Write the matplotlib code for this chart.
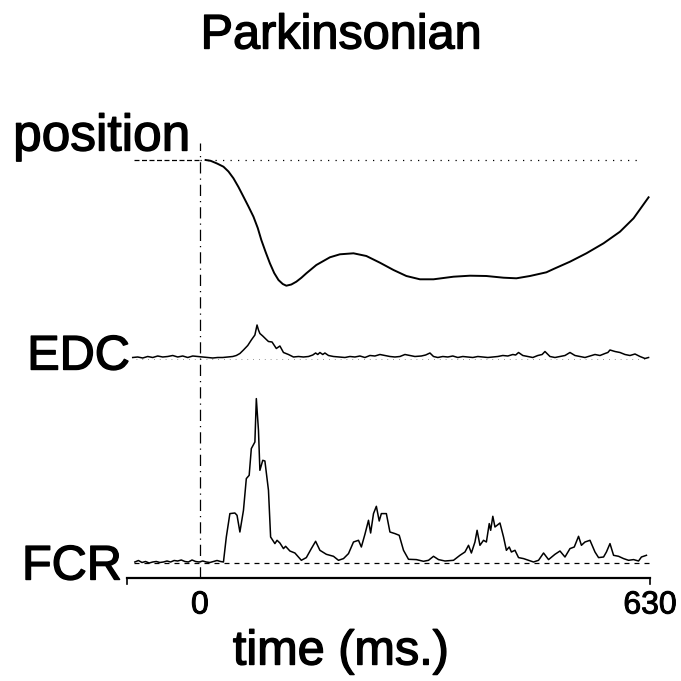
import matplotlib
matplotlib.use("Agg")
import matplotlib.pyplot as plt
import matplotlib.patheffects as pe

plt.rcParams['font.family'] = ['Liberation Sans', 'DejaVu Sans']

# time axis (ms) and trace amplitudes (arbitrary units, relative to each trace's baseline)
pos_t = [8, 15, 24, 33, 40, 47, 54, 61, 68, 75, 81, 86, 92, 98, 104, 110, 116, 121, 128, 135,
         142, 149, 163, 182, 196, 215, 233, 252, 271, 289, 308, 327, 355, 378, 401, 425, 443,
         462, 485, 495, 518, 541, 565, 588, 607, 628]
pos_v = [0, -0.8, -3.5, -6.7, -11.5, -18.3, -27, -36.7, -46.5, -56.7, -68, -80, -92, -103.3,
         -113, -120, -124, -125.7, -124.5, -121.7, -117.8, -113.3, -105, -97.3, -94.3, -93.3,
         -96, -102.7, -110, -116, -119.3, -119.3, -116.7, -115.7, -116, -117.7, -118.3, -116,
         -112.3, -109, -101.7, -93.3, -83.3, -71.7, -58.3, -37.3]

edc_t = [-94, -87, -80, -73, -66, -59, -52, -45, -38, -31, -24, -17, -10, -3, 4, 11, 18, 25,
         32, 39, 46, 51, 56, 61, 67, 72, 77, 80, 82, 84, 88, 93, 96, 101, 107, 112, 117, 124,
         131, 138, 145, 152, 158, 162, 165, 168, 172, 175, 180, 187, 195, 203, 210, 217, 224,
         231, 238, 245, 252, 259, 266, 273, 280, 287, 294, 301, 310, 316, 322, 327, 333, 340,
         347, 354, 361, 368, 375, 382, 389, 396, 403, 410, 417, 424, 431, 438, 442, 446, 452,
         459, 466, 473, 479, 483, 490, 497, 504, 511, 518, 525, 532, 539, 546, 553, 560, 567,
         571, 574, 581, 588, 595, 602, 609, 616, 623, 628]
edc_v = [0, 0.5, -0.5, 1, 0, 1.5, 0.5, 1, 2, 0.5, 1.5, 0, 1.5, 1, 0.5, 0, -0.5, 0,
         0, 0.5, 1, 2, 4, 7.5, 12, 17.5, 22.5, 32.5, 27.5, 24, 21.5, 18, 16, 15.5, 9, 11.5, 5, 3,
         0.5, 1, 0.5, 1, 2.5, 4.5, 3, 5, 3, 4.5, 2, 1, 0.5, 0, 1, 0.5, 1.5,
         0, 2, 1.5, 3, 2, 1, 0.5, 1, 3, 2, 1, 1.5, 2.5, 4.5, 1, 0, 1,
         0.5, 1.5, 0, 1, 0.5, 0, 1, 0.5, 0, 0.5, 1, 2, 1.5, 3, 2.5, 5, 2,
         1, 0, 2, 3, 6, 1, 0, 1, 2, 5, 2, 1, 0, 1.5, 3, 2, 4,
         5, 7.5, 6, 5, 3, 2, 3.5, 1, -1, 0]

fcr_t = [-91, -86, -81, -76, -71, -66, -61, -56, -51, -46, -41, -36, -31, -26, -21, -16, -11,
         -6, -1, 4, 9, 14, 19, 24, 29, 33, 37, 42, 49, 52, 56, 61, 65, 69, 72, 77, 79, 82, 84,
         88, 91, 96, 99, 105, 108, 112, 117, 120, 126, 133, 142, 149, 156, 162, 168, 177, 187,
         194, 201, 208, 215, 222, 226, 231, 236, 239, 243, 247, 251, 254, 261, 266, 273, 279,
         285, 292, 303, 313, 320, 327, 334, 343, 355, 364, 371, 376, 380, 385, 388, 392, 397,
         401, 405, 407, 410, 413, 420, 425, 429, 433, 436, 441, 446, 453, 460, 467, 474, 481,
         488, 497, 504, 511, 518, 524, 530, 534, 539, 546, 553, 558, 565, 569, 574, 579, 586,
         593, 600, 607, 614, 618, 625]
fcr_v = [1, 2.5, 0.5, 1.5, 0, 1, 1.5, 0.5, 1, 2, 1, 2.5, 2, 3, 1.5, 1, 3,
         1.5, 1, 2, 1, 0.5, 1.5, 2.5, 1.5, 1, 26, 49.4, 50, 47.7, 31, 52.7, 84.4, 87.7, 114.4,
         121, 164.4, 132.7, 92.7, 102.7, 102, 72.7, 26, 19.4, 22.7, 20, 14.4, 16.7, 12, 10, 2.7,
         5.4, 14.4, 21.7, 12.7, 8.7, 6.7, 2.7, 4.4, 9.4, 21, 22.7, 16, 28.7, 42.7, 30, 49.4,
         56.7, 42, 49.4, 49.4, 31, 29.4, 27.7, 12.7, 3.7, 3.4, 1.7, 2.7, 6.7, 3.4, 2, 2.7, 7.7,
         11, 17.7, 10, 21, 32.7, 17.7, 22.7, 21, 39.4, 32.7, 46.7, 36, 40, 26, 12.7, 16, 11,
         12.7, 5.4, 4.4, 2.7, 1, 2.7, 10, 3.4, 8.7, 12, 6, 14.4, 16, 26.7, 17.7, 21, 22.7, 11,
         5.4, 6, 11, 19.4, 7.7, 6.7, 4.4, 2.7, 3.4, 2, 6, 7.7]

trace_names = ['position', 'EDC', 'FCR']
tick_vals = [0, 630]

fig = plt.figure(figsize=(6.81, 6.81), dpi=100)
ax = fig.add_axes([127 / 681, 103 / 681, 523 / 681, 440 / 681])
ax.set_xlim(-102, 630)
ax.set_ylim(0, 440)

pos_base, edc_base, fcr_base = 418, 220.5, 15

# baselines
ax.plot([-92, 0], [pos_base, pos_base], color='black', lw=0.9, ls=(0, (4, 2)))
ax.plot([0, 618], [pos_base, pos_base], color='black', lw=0.9, ls=(0, (1, 5)))
ax.plot([-90, 628], [edc_base - 1, edc_base - 1], color='#777777', lw=0.6, ls=(0, (1, 6)))
ax.plot([-92, 628], [fcr_base, fcr_base], color='black', lw=0.9, ls=(0, (4, 4)))

# time zero marker
ax.plot([0, 0], [0, 435], color='black', lw=0.9, ls=(0, (9, 4, 1, 4)))

ax.plot(pos_t, [pos_base + v for v in pos_v], color='black', lw=1.4)
ax.plot(edc_t, [edc_base + v for v in edc_v], color='black', lw=1.1)
ax.plot(fcr_t, [fcr_base + v for v in fcr_v], color='black', lw=1.1)

# axis line with small end ticks
for s in ['top', 'right', 'left']:
    ax.spines[s].set_visible(False)
ax.spines['bottom'].set_linewidth(1.6)
ax.plot([-102, -102], [0, -6], color='black', lw=1.2, clip_on=False)
ax.plot([630, 630], [0, -6], color='black', lw=1.2, clip_on=False)
ax.set_yticks([])
ax.set_xticks(tick_vals)
ax.set_xticklabels([str(v) for v in tick_vals], fontsize=23)
ax.tick_params(axis='x', length=0, pad=9)

thick = [pe.withStroke(linewidth=1.0, foreground='black')]
for lab in ax.get_xticklabels():
    lab.set_path_effects([pe.withStroke(linewidth=0.7, foreground='black')])

fig.text(341 / 681, 1 - 36 / 681, 'Parkinsonian', ha='center', va='center',
         fontsize=35, path_effects=thick)
fig.text(190 / 681, 1 - 137 / 681, trace_names[0], ha='right', va='center',
         fontsize=37, path_effects=thick)
fig.text(130 / 681, 1 - 357 / 681, trace_names[1], ha='right', va='center',
         fontsize=35, path_effects=thick)
fig.text(122 / 681, 1 - 567 / 681, trace_names[2], ha='right', va='center',
         fontsize=35, path_effects=thick)
fig.text(341 / 681, 1 - 652 / 681, 'time (ms.)', ha='center', va='center',
         fontsize=35, path_effects=thick)

fig.savefig('out.png', dpi=100)
